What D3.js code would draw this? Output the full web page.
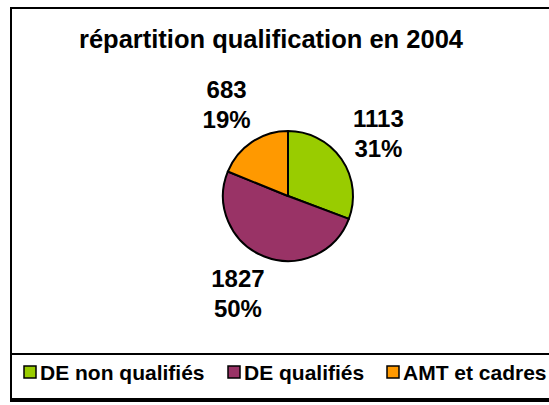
<!DOCTYPE html>
<html>
<head>
<meta charset="utf-8">
<script src="https://cdn.jsdelivr.net/npm/d3@7"></script>
<style>
  html, body { margin: 0; padding: 0; background: #fff; }
  svg { display: block; font-family: "Liberation Sans", Arial, Helvetica, sans-serif; font-weight: bold; }
</style>
</head>
<body>
<svg id="chart" width="549" height="405"></svg>
<script>
const title = "répartition qualification en 2004";
const categories = ["DE non qualifiés", "DE qualifiés", "AMT et cadres"];
const values = [1113, 1827, 683];
const percents = ["31%", "50%", "19%"];
const colors = ["#99CC00", "#993366", "#FF9900"];

const W = 549, H = 405;
const svg = d3.select("#chart");

// outer chart frame
svg.append("rect").attr("x", 11).attr("y", 8).attr("width", 560).attr("height", 393)
  .attr("fill", "#fff").attr("stroke", "#000").attr("stroke-width", 2);

// title
svg.append("text").attr("x", 271).attr("y", 48).attr("text-anchor", "middle")
  .attr("font-size", 25.5).attr("fill", "#000").text(title);

// pie
const cx = 288, cy = 196, r = 65, rl = 110;
const pie = d3.pie().sort(null).value(d => d)(values);
const arc = d3.arc().innerRadius(0).outerRadius(r);
const labelArc = d3.arc().innerRadius(rl).outerRadius(rl);

const g = svg.append("g").attr("transform", `translate(${cx},${cy})`);
g.selectAll("path").data(pie).join("path")
  .attr("d", arc)
  .attr("fill", (d, i) => colors[i])
  .attr("stroke", "#000").attr("stroke-width", 2).attr("stroke-linejoin", "round");

const lbl = g.selectAll("g.lbl").data(pie).join("g").attr("class", "lbl")
  .attr("transform", d => {
    const [x, y] = labelArc.centroid(d);
    // Excel-style: push labels on the lower-left side slightly outward horizontally
    const a = (d.startAngle + d.endAngle) / 2;
    const nudge = (a > Math.PI && a < 1.5 * Math.PI) ? -10 : 0;
    return `translate(${x + nudge},${y - (nudge ? 5 : 0)})`;
  });
lbl.append("text").attr("text-anchor", "middle").attr("y", -15).attr("dy", "0.35em")
  .attr("font-size", 24).text(d => d.data);
lbl.append("text").attr("text-anchor", "middle").attr("y", 15).attr("dy", "0.35em")
  .attr("font-size", 24).text((d, i) => percents[i]);

// legend box
svg.append("rect").attr("x", 11).attr("y", 354).attr("width", 560).attr("height", 45)
  .attr("fill", "#fff").attr("stroke", "#000").attr("stroke-width", 2);

const legendX = [24, 228, 387];
const lg = svg.selectAll("g.leg").data(categories).join("g").attr("class", "leg")
  .attr("transform", (d, i) => `translate(${legendX[i]},366)`);
lg.append("rect").attr("x", 0).attr("y", 0).attr("width", 12).attr("height", 12)
  .attr("fill", (d, i) => colors[i]).attr("stroke", "#000").attr("stroke-width", 1.5);
lg.append("text").attr("x", 16).attr("y", 6).attr("dy", "0.36em")
  .attr("font-size", 21).text(d => d);
</script>
</body>
</html>
